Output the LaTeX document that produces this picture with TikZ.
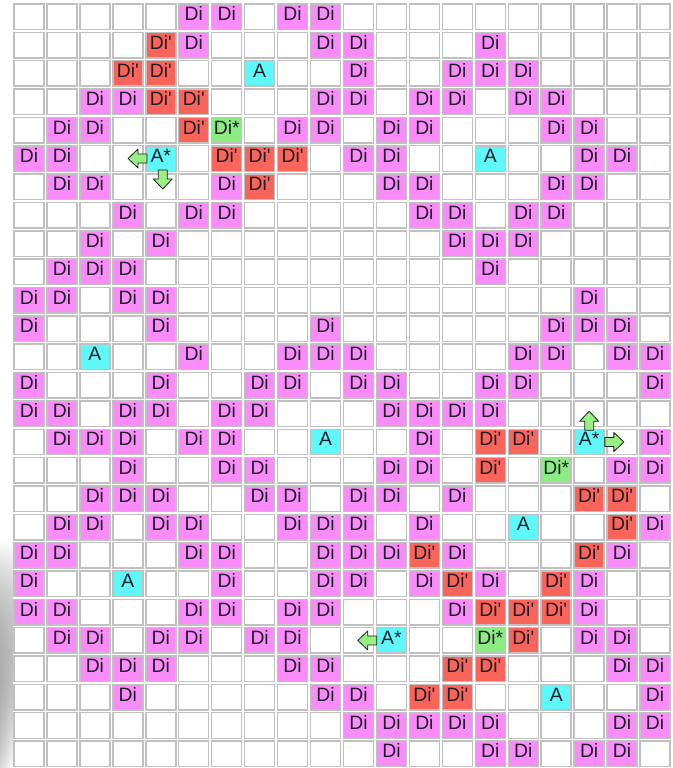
\documentclass[tikz,border=0pt]{standalone}
\usepackage{fontspec}
\newfontfamily\cellfont{Liberation Sans}[Ligatures=TeXOff]
\usepackage{tikz}
\usetikzlibrary{fadings}
\definecolor{dipink}{RGB}{250,140,250}
\definecolor{dired}{RGB}{250,100,90}
\definecolor{digreen}{RGB}{140,235,130}
\definecolor{acyan}{RGB}{95,248,250}
\definecolor{gridgrey}{RGB}{192,192,192}
\definecolor{arrowgreen}{RGB}{150,240,130}
\definecolor{inkdark}{RGB}{30,30,40}
\tikzset{
  cellbox/.style={draw=gridgrey, line width=1.1pt, fill=white},
  cell/.style={rectangle, draw=gridgrey, line width=1.1pt,
    minimum width=22.5pt, minimum height=19.1pt, inner sep=0pt,
    font=\cellfont\fontsize{14.5}{16}\selectfont,
    text height=10.4pt, text depth=4.5pt, text=inkdark},
  di/.style={cell, fill=dipink},
  diprime/.style={cell, fill=dired},
  distar/.style={cell, fill=digreen},
  agent/.style={cell, fill=acyan},
  blockarrow/.pic={
    \draw[fill=arrowgreen, draw=inkdark, line width=0.6pt, line join=round]
      (0,-4.5) -- (9,-4.5) -- (9,-9.5) -- (19,0) -- (9,9.5) -- (9,4.5) -- (0,4.5) -- cycle;}
}

\begin{document}
\begin{tikzpicture}[x=0.75pt, y=-0.75pt]
  \useasboundingbox (0,0) rectangle (673,768);
  % Shadow at the left edge
  \fill[left color=black!14, right color=white, path fading=north] (0,540) rectangle (13,768);

  % Empty grid
  \foreach \r in {1,...,27}
    \foreach \c in {1,...,20}
      \draw[cellbox] ({14+32.95*(\c-1)},{4+28.35*(\r-1)}) rectangle ++(30,25.5);

  % Di cells
  \foreach \r/\c in {1/6,1/7,1/9,1/10, 2/6,2/10,2/11,2/15, 3/11,3/14,3/15,3/16,
      4/3,4/4,4/10,4/11,4/13,4/14,4/16,4/17, 5/2,5/3,5/9,5/10,5/12,5/13,5/17,5/18,
      6/1,6/2,6/11,6/12,6/18,6/19, 7/2,7/3,7/7,7/12,7/13,7/17,7/18,
      8/4,8/6,8/7,8/13,8/14,8/16,8/17, 9/3,9/5,9/14,9/15,9/16, 10/2,10/3,10/4,10/15,
      11/1,11/2,11/4,11/5,11/18, 12/1,12/5,12/10,12/17,12/18,12/19,
      13/6,13/9,13/10,13/11,13/16,13/17,13/19,13/20,
      14/1,14/5,14/8,14/9,14/11,14/12,14/15,14/16,14/20,
      15/1,15/2,15/4,15/5,15/7,15/8,15/12,15/13,15/14,15/15,
      16/2,16/3,16/4,16/6,16/7,16/13,16/20, 17/4,17/7,17/8,17/12,17/13,17/19,17/20,
      18/3,18/4,18/5,18/8,18/9,18/11,18/12,18/14,
      19/2,19/3,19/5,19/6,19/9,19/10,19/11,19/13,19/20,
      20/1,20/2,20/6,20/7,20/10,20/11,20/12,20/14,20/19,
      21/1,21/7,21/10,21/11,21/13,21/15,21/18, 22/1,22/2,22/6,22/7,22/9,22/10,22/14,22/18,
      23/2,23/3,23/5,23/6,23/8,23/9,23/18,23/19, 24/3,24/4,24/5,24/9,24/10,24/19,24/20,
      25/4,25/10,25/11,25/20, 26/11,26/12,26/13,26/14,26/15,26/19,26/20,
      27/12,27/15,27/16,27/18,27/19}
    \node[di] (di-\r-\c) at ({29+32.95*(\c-1)},{16.75+28.35*(\r-1)}) {Di};

  % Di' cells
  \foreach \r/\c in {2/5, 3/4,3/5, 4/5,4/6, 5/6, 6/7,6/8,6/9, 7/8, 16/15,16/16, 17/15,
      18/18,18/19, 19/19, 20/13,20/18, 21/14,21/17, 22/15,22/16,22/17, 23/16,
      24/14,24/15, 25/13,25/14}
    \node[diprime] (dp-\r-\c) at ({29+32.95*(\c-1)},{16.75+28.35*(\r-1)}) {Di'};

  % Di* cells
  \foreach \r/\c in {5/7, 17/17, 23/15}
    \node[distar] (ds-\r-\c) at ({29+32.95*(\c-1)},{16.75+28.35*(\r-1)}) {Di*};

  % A cells
  \foreach \r/\c in {3/8, 6/15, 13/3, 16/10, 19/16, 21/4, 25/17}
    \node[agent] (a-\r-\c) at ({29+32.95*(\c-1)},{16.75+28.35*(\r-1)}) {A};

  % A* cells
  \foreach \r/\c in {6/5, 16/18, 23/12}
    \node[agent] (as-\r-\c) at ({29+32.95*(\c-1)},{16.75+28.35*(\r-1)}) {A*};

  % Moves
  \pic[rotate=180] at ([xshift=1.5pt]as-6-5.west) {blockarrow};
  \pic[rotate=-90] at ([xshift=1.5pt, yshift=1.5pt]as-6-5.south) {blockarrow};
  \pic[rotate=90] at ([yshift=-1.3pt]as-16-18.north) {blockarrow};
  \pic at (as-16-18.east) {blockarrow};
  \pic[rotate=180] at ([xshift=0.8pt]as-23-12.west) {blockarrow};
\end{tikzpicture}
\end{document}
